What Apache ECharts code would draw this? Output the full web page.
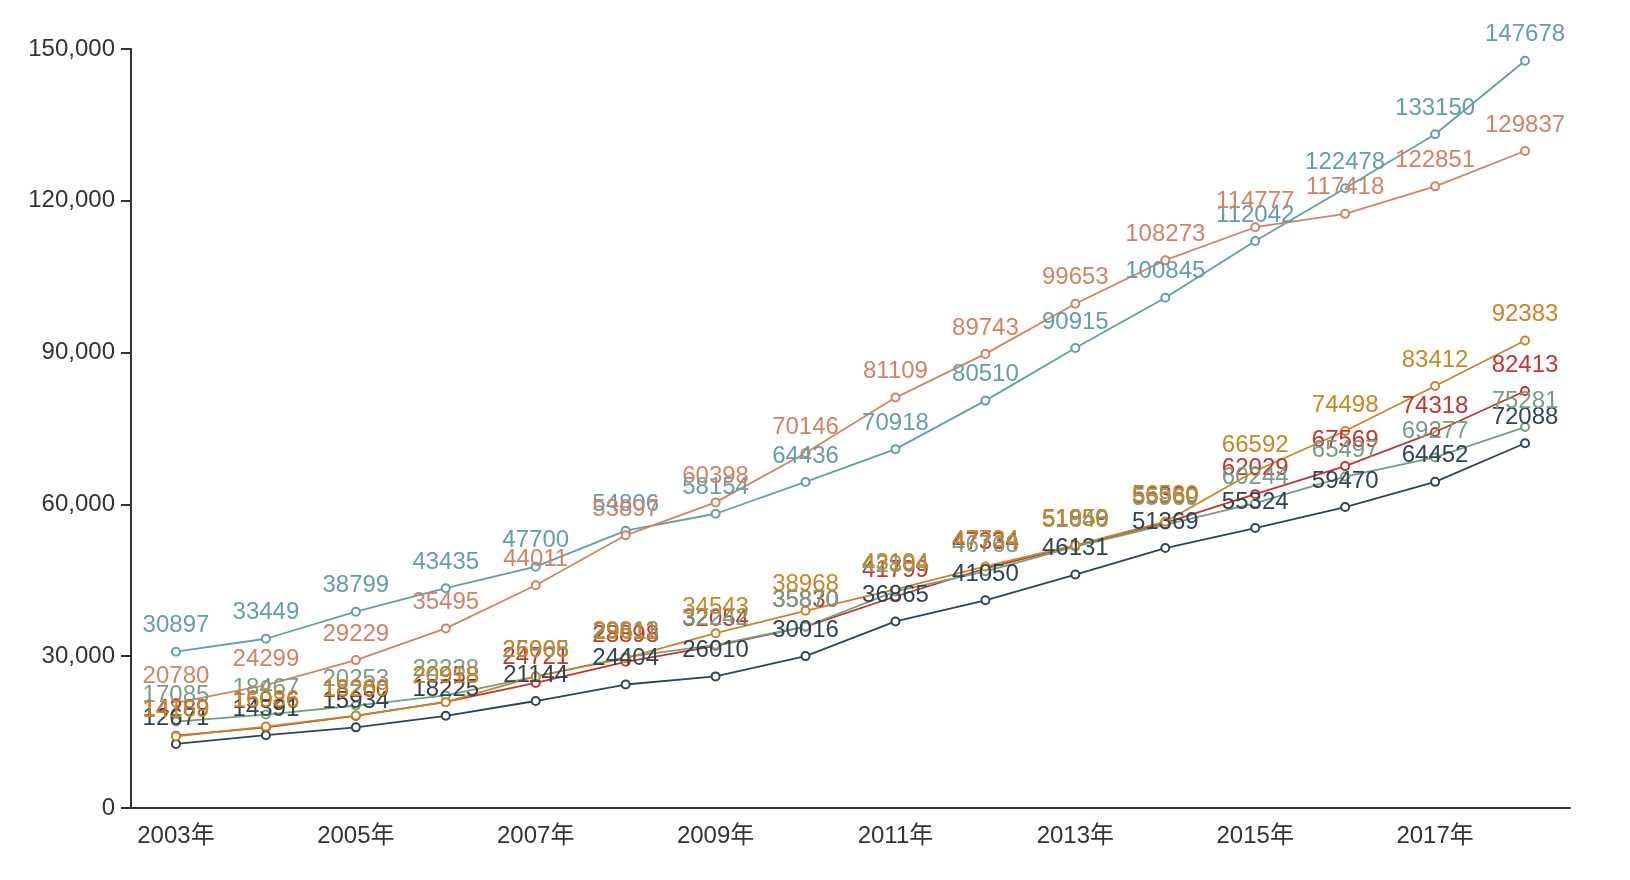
<!DOCTYPE html>
<html>
<head>
<meta charset="utf-8">
<script src="https://cdn.jsdelivr.net/npm/echarts@6/dist/echarts.min.js"></script>
<style>
html,body{margin:0;padding:0;background:#fff;}
#chart{width:1630px;height:880px;}
</style>
</head>
<body>
<div id="chart"></div>
<script>
const years = ['2003年','2004年','2005年','2006年','2007年','2008年','2009年','2010年','2011年','2012年','2013年','2014年','2015年','2016年','2017年','2018年'];
const yTicks = [0, 30000, 60000, 90000, 120000, 150000];

const redSeries    = [14289, 15926, 18200, 20958, 24721, 28898, 32054, 35830, 41799, 47334, 51859, 56360, 62029, 67569, 74318, 82413];
const darkSeries   = [12671, 14391, 15934, 18225, 21144, 24404, 26010, 30016, 36865, 41050, 46131, 51369, 55324, 59470, 64452, 72088];
const tealSeries   = [30897, 33449, 38799, 43435, 47700, 54806, 58154, 64436, 70918, 80510, 90915, 100845, 112042, 122478, 133150, 147678];
const salmonSeries = [20780, 24299, 29229, 35495, 44011, 53897, 60398, 70146, 81109, 89743, 99653, 108273, 114777, 117418, 122851, 129837];
const greenSeries  = [17085, 18467, 20253, 22238, 25968, 29813, 32242, 35870, 42804, 46768, 51646, 55969, 60244, 65497, 69277, 75281];
const orangeSeries = [14169, 16086, 18269, 20918, 26005, 29611, 34543, 38968, 43194, 47734, 51950, 56580, 66592, 74498, 83412, 92383];

const seriesDefs = [
  {name: 'red', data: redSeries, color: '#c23531'},
  {name: 'dark', data: darkSeries, color: '#2f4554'},
  {name: 'teal', data: tealSeries, color: '#61a0a8'},
  {name: 'salmon', data: salmonSeries, color: '#d48265'},
  {name: 'green', data: greenSeries, color: '#749f83'},
  {name: 'orange', data: orangeSeries, color: '#ca8622'}
];

const FONT = '"Liberation Sans", Arial, Helvetica, "Noto Sans CJK SC", sans-serif';
const chart = echarts.init(document.getElementById('chart'), null, {renderer: 'canvas'});
chart.setOption({
  animation: false,
  textStyle: {fontFamily: FONT},
  grid: {left: 131, right: 60, top: 49, bottom: 72, containLabel: false},
  xAxis: {
    type: 'category',
    data: years,
    boundaryGap: true,
    axisLine: {lineStyle: {color: '#333', width: 2}},
    axisTick: {interval: 1, length: 9, lineStyle: {color: '#333', width: 2}},
    axisLabel: {interval: 1, color: '#333', fontSize: 24, margin: 16, fontFamily: FONT}
  },
  yAxis: {
    type: 'value',
    min: yTicks[0],
    max: yTicks[yTicks.length - 1],
    interval: yTicks[1] - yTicks[0],
    splitLine: {show: false},
    axisLine: {show: true, lineStyle: {color: '#333', width: 2}},
    axisTick: {show: true, length: 10, lineStyle: {color: '#333', width: 2}},
    axisLabel: {
      color: '#333', fontSize: 24, margin: 16, fontFamily: FONT,
      formatter: v => v.toLocaleString('en-US')
    }
  },
  series: seriesDefs.map(s => ({
    name: s.name,
    type: 'line',
    data: s.data,
    symbol: 'emptyCircle',
    symbolSize: 8,
    showAllSymbol: true,
    itemStyle: {color: s.color, borderWidth: 1.8},
    lineStyle: {color: s.color, width: 1.8},
    label: {show: true, position: 'top', distance: 9, color: s.color, fontSize: 24, fontFamily: FONT}
  }))
});
</script>
</body>
</html>
